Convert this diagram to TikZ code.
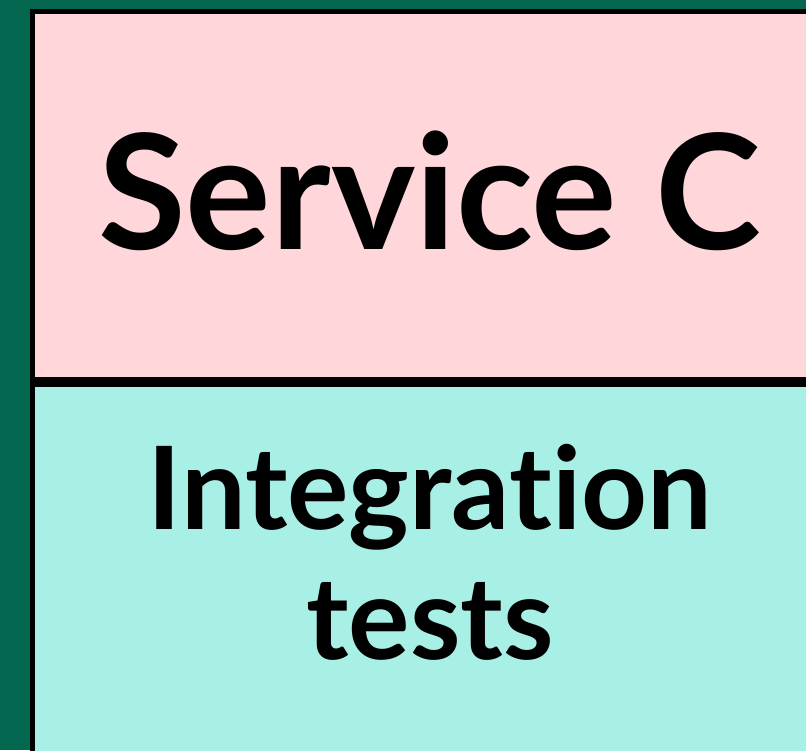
\documentclass[tikz,border=0pt]{standalone}
\usepackage{fontspec}
\setmainfont{Lato}[Ligatures=NoCommon]
\usetikzlibrary{positioning}

\definecolor{bggreen}{HTML}{03664F}
\definecolor{svcpink}{HTML}{FFD6DA}
\definecolor{testteal}{HTML}{A8F0E6}

\tikzset{
  panel/.style={draw=black, line width=5pt, anchor=north west, inner sep=0pt},
  big/.style={font=\bfseries\fontsize{160}{160}\selectfont},
  mid/.style={font=\bfseries\fontsize{115}{130}\selectfont, align=center}
}

\begin{document}
\begin{tikzpicture}[x=1pt, y=1pt]
\useasboundingbox (0,0) rectangle (806,750);
\fill[bggreen] (0,0) rectangle (806,750);
% the two stacked panels
\node[panel, fill=svcpink, minimum width=820pt, minimum height=368pt] (svc) at (29.5,740.5) {};
\node[panel, fill=testteal, minimum width=820pt, minimum height=400pt] (tests) at (svc.south west) {};
% labels
\node[big, anchor=base] (svclabel) at (430,500) {Service C};
\node[mid, anchor=base] (testlabel) at (430,91) {Integration\\tests};
\end{tikzpicture}
\end{document}
